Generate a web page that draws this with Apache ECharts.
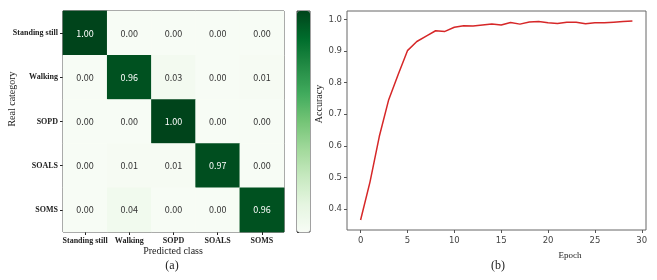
<!DOCTYPE html>
<html>
<head>
<meta charset="utf-8">
<script src="https://cdn.jsdelivr.net/npm/echarts@6/dist/echarts.min.js"></script>
<style>
html,body{margin:0;padding:0;background:#fff;}
#c{width:657px;height:280px;}
</style>
</head>
<body>
<div id="c"></div>
<script>
// ---- data ----
var classes = ['Standing still', 'Walking', 'SOPD', 'SOALS', 'SOMS'];
var rowStanding = [1.00, 0.00, 0.00, 0.00, 0.00];
var rowWalking  = [0.00, 0.96, 0.03, 0.00, 0.01];
var rowSOPD     = [0.00, 0.00, 1.00, 0.00, 0.00];
var rowSOALS    = [0.00, 0.01, 0.01, 0.97, 0.00];
var rowSOMS     = [0.00, 0.04, 0.00, 0.00, 0.96];
var confRows = [rowStanding, rowWalking, rowSOPD, rowSOALS, rowSOMS];

var epochs = [0,1,2,3,4,5,6,7,8,9,10,11,12,13,14,15,16,17,18,19,20,21,22,23,24,25,26,27,28,29];
var accuracy = [0.365,0.485,0.630,0.746,0.825,0.901,0.930,0.947,0.964,0.962,0.975,0.980,0.979,0.982,0.985,0.982,0.990,0.985,0.992,0.993,0.989,0.987,0.991,0.991,0.986,0.989,0.989,0.991,0.993,0.995];
var yTickLabels = ['0.4','0.5','0.6','0.7','0.8','0.9','1.0'];

var greens = ['#f7fcf5','#e5f5e0','#c7e9c0','#a1d99b','#74c476','#41ab5d','#238b45','#006d2c','#00441b'];

var heatData = [];
confRows.forEach(function(row, r){
  row.forEach(function(v, c){
    heatData.push({value:[c, r, v], label:{color: v > 0.5 ? '#ffffff' : '#333333'}});
  });
});

var serif = '"Liberation Serif","Times New Roman",serif';
var cjk = '"Noto Sans CJK SC","DejaVu Sans",sans-serif';
var sans = '"DejaVu Sans","Liberation Sans",sans-serif';

// y-range of the accuracy plot and where the labelled ticks sit inside it
var yMin = 0.3335, yMax = 1.0265;
var plotTop = 11, plotH = 219;
var tickTop = plotTop + plotH * (yMax - 1.0) / (yMax - yMin);
var tickH = plotH * (1.0 - 0.4) / (yMax - yMin);

var chart = echarts.init(document.getElementById('c'), null, {renderer:'canvas'});
chart.setOption({
  animation:false,
  backgroundColor:'#ffffff',
  grid:[
    {left:63, top:11, width:221, height:221, show:true, borderColor:'#222', borderWidth:1, backgroundColor:'transparent'},
    {left:347, top:plotTop, width:299, height:plotH, show:true, borderColor:'#666', borderWidth:1, backgroundColor:'transparent'},
    {left:297, top:11, width:13, height:221, show:true, borderColor:'#444', borderWidth:1, backgroundColor:'transparent'},
    {left:347, top:tickTop, width:299, height:tickH, show:false}
  ],
  xAxis:[
    {gridIndex:0, type:'category', data:classes, position:'bottom',
     axisLine:{show:false}, axisTick:{show:true, alignWithLabel:true, length:3, lineStyle:{color:'#222'}},
     axisLabel:{fontFamily:serif, fontSize:8, color:'#222', margin:5, fontWeight:'bold', interval:0},
     splitLine:{show:false}},
    {gridIndex:1, type:'value', min:-1.45, max:30.45, splitNumber:6,
     axisLine:{show:false}, splitLine:{show:false},
     axisTick:{show:true, length:3, lineStyle:{color:'#555'}},
     axisLabel:{fontFamily:sans, fontSize:8.5, color:'#444', margin:6, showMinLabel:false, showMaxLabel:false}},
    {gridIndex:2, type:'value', show:false, min:0, max:1},
    {gridIndex:3, type:'value', show:false, min:0, max:1}
  ],
  yAxis:[
    {gridIndex:0, type:'category', data:classes, inverse:true,
     axisLine:{show:false}, axisTick:{show:true, alignWithLabel:true, length:3, lineStyle:{color:'#222'}},
     axisLabel:{fontFamily:serif, fontSize:8, color:'#222', margin:5, fontWeight:'bold', interval:0},
     splitLine:{show:false}},
    {gridIndex:1, type:'value', min:yMin, max:yMax,
     axisLine:{show:false}, splitLine:{show:false},
     axisTick:{show:false}, axisLabel:{show:false}},
    {gridIndex:2, type:'value', min:0, max:1, position:'right', interval:0.2,
     axisLine:{show:false}, splitLine:{show:false},
     axisTick:{show:true, length:2, lineStyle:{color:'#444'}},
     axisLabel:{show:false}},
    {gridIndex:3, type:'category', data:yTickLabels, boundaryGap:false,
     axisLine:{show:false}, splitLine:{show:false},
     axisTick:{show:true, length:3, lineStyle:{color:'#555'}},
     axisLabel:{fontFamily:sans, fontSize:8.5, color:'#444', margin:5, interval:0}}
  ],
  visualMap:{
    type:'continuous', min:0, max:1, seriesIndex:0, dimension:2,
    orient:'vertical', left:297, top:11, itemWidth:13, itemHeight:221, padding:0,
    calculable:false, hoverLink:false, text:null,
    inRange:{color:greens}, z:1
  },
  series:[
    {type:'heatmap', xAxisIndex:0, yAxisIndex:0, data:heatData,
     label:{show:true, fontFamily:cjk, fontSize:9,
       formatter:function(p){return p.value[2].toFixed(2);}},
     itemStyle:{borderWidth:0}},
    {type:'line', xAxisIndex:1, yAxisIndex:1,
     data:epochs.map(function(e,i){return [e, accuracy[i]];}),
     showSymbol:false, symbol:'none', lineStyle:{color:'#d62728', width:1.5}}
  ],
  graphic:[
    {type:'text', x:12, y:99, rotation:Math.PI/2, style:{text:'Real category', font:'10px '+serif, fill:'#222', align:'center', verticalAlign:'middle'}},
    {type:'text', x:173, y:251, style:{text:'Predicted class', font:'10px '+serif, fill:'#222', align:'center', verticalAlign:'middle'}},
    {type:'text', x:172, y:266, style:{text:'(a)', font:'12px '+serif, fill:'#222', align:'center', verticalAlign:'middle'}},
    {type:'text', x:319, y:104, rotation:Math.PI/2, style:{text:'Accuracy', font:'10px '+serif, fill:'#222', align:'center', verticalAlign:'middle'}},
    {type:'text', x:570, y:256, style:{text:'Epoch', font:'9px '+serif, fill:'#222', align:'center', verticalAlign:'middle'}},
    {type:'text', x:498, y:266, style:{text:'(b)', font:'12px '+serif, fill:'#222', align:'center', verticalAlign:'middle'}}
  ]
});
</script>
</body>
</html>
